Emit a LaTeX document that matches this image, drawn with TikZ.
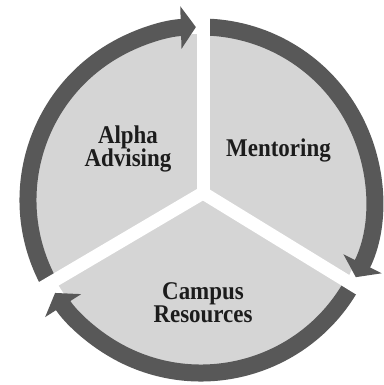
\documentclass[tikz,border=0pt]{standalone}
\usepackage{fontspec}
\setmainfont{Liberation Serif}[FakeStretch=0.9]
\usetikzlibrary{arrows.meta}
\definecolor{ringgray}{HTML}{585858}
\definecolor{fillgray}{HTML}{D5D5D5}
\definecolor{textdark}{HTML}{1C1C1C}
\tikzset{
  ringarc/.style={draw=ringgray, line width=17pt, -{Triangle[width=42pt,length=15pt]}},
  gapband/.style={draw=white, line width=13pt},
  lab/.style={font=\bfseries\fontsize{25.5}{23.4}\selectfont, text=textdark, align=center, anchor=base, inner sep=0pt}
}
\begin{document}
\begin{tikzpicture}[x=1pt,y=1pt]
\useasboundingbox (0,0) rectangle (383,385);
\coordinate (C) at (201,185);
\coordinate (J) at (203,192);
% disk
\fill[fillgray] (C) circle[radius=166];
% ring arcs (clockwise)
\draw[ringarc] (C) ++(210:173) arc[start angle=210, end angle=91.7, radius=173];
\draw[ringarc] (C) ++(88:173) arc[start angle=88, end angle=-26.5, radius=173];
\draw[ringarc] (C) ++(-30:173) arc[start angle=-30, end angle=-147.5, radius=173];
% white separating bands
\draw[gapband] (J) -- ++(90:200) coordinate (g1);
\draw[gapband] (J) -- ++(-31.5:200) coordinate (g2);
\draw[gapband] (J) -- ++(210.5:200) coordinate (g3);
% labels (base = baseline of last line)
\node[lab] (alpha) at (128,218.3) {Alpha\\Advising};
\node[lab] (mentor) at (278.5,228) {Mentoring};
\node[lab] (campus) at (203,62) {Campus\\Resources};
\end{tikzpicture}
\end{document}
